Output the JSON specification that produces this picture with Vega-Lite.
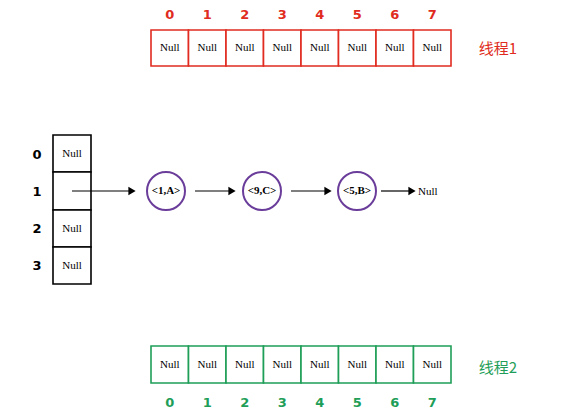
{
"$schema":"https://vega.github.io/schema/vega-lite/v6.json",
"width":563,"height":412,"padding":0,
"autosize":{"type":"fit","contains":"padding"},
"config":{"view":{"stroke":null}},
"datasets":{
"cells":[
{"x":151,"x2":188.5,"y":30,"y2":66,"g":"r","t":"Null"},
{"x":188.5,"x2":226,"y":30,"y2":66,"g":"r","t":"Null"},
{"x":226,"x2":263.5,"y":30,"y2":66,"g":"r","t":"Null"},
{"x":263.5,"x2":301,"y":30,"y2":66,"g":"r","t":"Null"},
{"x":301,"x2":338.5,"y":30,"y2":66,"g":"r","t":"Null"},
{"x":338.5,"x2":376,"y":30,"y2":66,"g":"r","t":"Null"},
{"x":376,"x2":413.5,"y":30,"y2":66,"g":"r","t":"Null"},
{"x":413.5,"x2":451,"y":30,"y2":66,"g":"r","t":"Null"},
{"x":151,"x2":188.5,"y":346,"y2":383,"g":"g","t":"Null"},
{"x":188.5,"x2":226,"y":346,"y2":383,"g":"g","t":"Null"},
{"x":226,"x2":263.5,"y":346,"y2":383,"g":"g","t":"Null"},
{"x":263.5,"x2":301,"y":346,"y2":383,"g":"g","t":"Null"},
{"x":301,"x2":338.5,"y":346,"y2":383,"g":"g","t":"Null"},
{"x":338.5,"x2":376,"y":346,"y2":383,"g":"g","t":"Null"},
{"x":376,"x2":413.5,"y":346,"y2":383,"g":"g","t":"Null"},
{"x":413.5,"x2":451,"y":346,"y2":383,"g":"g","t":"Null"},
{"x":53,"x2":91,"y":135,"y2":172,"g":"k","t":"Null"},
{"x":53,"x2":91,"y":172,"y2":210,"g":"k","t":""},
{"x":53,"x2":91,"y":210,"y2":247,"g":"k","t":"Null"},
{"x":53,"x2":91,"y":247,"y2":284,"g":"k","t":"Null"}
],
"labels":[
{"x":169.7,"y":15,"g":"r","t":"0"},{"x":207.2,"y":15,"g":"r","t":"1"},{"x":244.7,"y":15,"g":"r","t":"2"},{"x":282.2,"y":15,"g":"r","t":"3"},
{"x":319.7,"y":15,"g":"r","t":"4"},{"x":357.2,"y":15,"g":"r","t":"5"},{"x":394.7,"y":15,"g":"r","t":"6"},{"x":432.2,"y":15,"g":"r","t":"7"},
{"x":169.7,"y":403,"g":"g","t":"0"},{"x":207.2,"y":403,"g":"g","t":"1"},{"x":244.7,"y":403,"g":"g","t":"2"},{"x":282.2,"y":403,"g":"g","t":"3"},
{"x":319.7,"y":403,"g":"g","t":"4"},{"x":357.2,"y":403,"g":"g","t":"5"},{"x":394.7,"y":403,"g":"g","t":"6"},{"x":432.2,"y":403,"g":"g","t":"7"},
{"x":37,"y":155,"g":"k","t":"0"},{"x":37,"y":192,"g":"k","t":"1"},{"x":37,"y":229,"g":"k","t":"2"},{"x":37,"y":266,"g":"k","t":"3"}
],
"threads":[{"x":498,"y":49,"g":"r","t":"线程1"},{"x":498,"y":368,"g":"g","t":"线程2"}],
"nodes":[{"x":166,"y":191,"t":"<1,A>"},{"x":262,"y":191,"t":"<9,C>"},{"x":357,"y":191,"t":"<5,B>"}],
"arrows":[{"x":72,"x2":130,"ax":132,"y":191},{"x":195,"x2":230,"ax":232,"y":191},{"x":291,"x2":326,"ax":328,"y":191},{"x":381,"x2":410,"ax":412,"y":191}]
},
"layer":[
{"data":{"name":"cells"},"mark":{"type":"rect","fill":"white","strokeWidth":1.6},
 "encoding":{"x":{"field":"x","type":"quantitative","scale":{"domain":[0,563],"nice":false,"zero":false},"axis":null},"x2":{"field":"x2"},
 "y":{"field":"y","type":"quantitative","scale":{"domain":[0,412],"nice":false,"zero":false,"reverse":true},"axis":null},"y2":{"field":"y2"},
 "stroke":{"field":"g","type":"nominal","scale":{"domain":["r","g","k"],"range":["#e02b20","#1e9e58","#000000"]},"legend":null}}},
{"data":{"name":"cells"},"mark":{"type":"text","font":"Liberation Serif","fontSize":11,"color":"black"},
 "transform":[{"calculate":"(datum.x+datum.x2)/2","as":"cx"},{"calculate":"(datum.y+datum.y2)/2","as":"cy"}],
 "encoding":{"x":{"field":"cx","type":"quantitative"},"y":{"field":"cy","type":"quantitative"},"text":{"field":"t"}}},
{"data":{"name":"arrows"},"mark":{"type":"rule","color":"black","strokeWidth":1.2},
 "encoding":{"x":{"field":"x","type":"quantitative"},"x2":{"field":"x2"},"y":{"field":"y","type":"quantitative"}}},
{"data":{"name":"arrows"},"mark":{"type":"point","shape":"triangle-right","filled":true,"color":"black","size":70,"opacity":1},
 "encoding":{"x":{"field":"ax","type":"quantitative"},"y":{"field":"y","type":"quantitative"}}},
{"data":{"name":"nodes"},"mark":{"type":"point","shape":"circle","filled":false,"stroke":"#6a3d9a","strokeWidth":2,"size":1444,"opacity":1},
 "encoding":{"x":{"field":"x","type":"quantitative"},"y":{"field":"y","type":"quantitative"}}},
{"data":{"name":"nodes"},"mark":{"type":"text","font":"Liberation Serif","fontSize":11,"fontWeight":"bold","color":"black"},
 "encoding":{"x":{"field":"x","type":"quantitative"},"y":{"field":"y","type":"quantitative"},"text":{"field":"t"}}},
{"data":{"values":[{"x":418,"y":192,"t":"Null"}]},"mark":{"type":"text","font":"Liberation Serif","fontSize":11,"align":"left","color":"black"},
 "encoding":{"x":{"field":"x","type":"quantitative"},"y":{"field":"y","type":"quantitative"},"text":{"field":"t"}}},
{"data":{"name":"labels"},"mark":{"type":"text","font":"DejaVu Sans","fontSize":13,"fontWeight":"bold"},
 "encoding":{"x":{"field":"x","type":"quantitative"},"y":{"field":"y","type":"quantitative"},"text":{"field":"t"},
 "color":{"field":"g","type":"nominal","scale":{"domain":["r","g","k"],"range":["#e02b20","#1e9e58","#000000"]},"legend":null}}},
{"data":{"name":"threads"},"mark":{"type":"text","font":"Noto Sans CJK SC","fontSize":15},
 "encoding":{"x":{"field":"x","type":"quantitative"},"y":{"field":"y","type":"quantitative"},"text":{"field":"t"},
 "color":{"field":"g","type":"nominal","scale":{"domain":["r","g","k"],"range":["#e02b20","#1e9e58","#000000"]},"legend":null}}}
]
}
